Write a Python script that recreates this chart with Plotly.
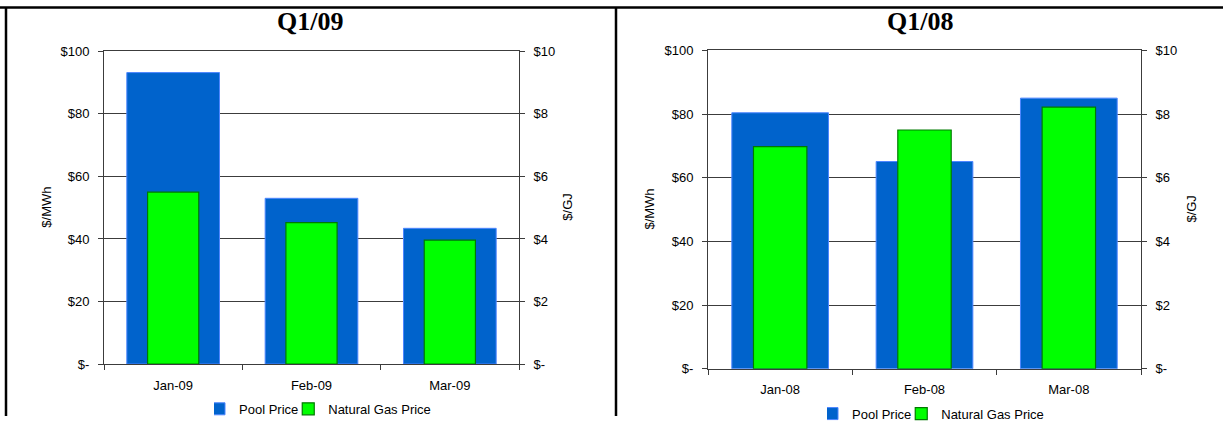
import plotly.graph_objects as go

# Monthly averages for the first quarter of 2009 and 2008
months_09 = ["Jan-09", "Feb-09", "Mar-09"]
pool_09 = [93.2, 53.0, 43.4]      # $/MWh
gas_09 = [5.5, 4.52, 3.96]        # $/GJ

months_08 = ["Jan-08", "Feb-08", "Mar-08"]
pool_08 = [80.4, 65.1, 85.0]      # $/MWh
gas_08 = [6.98, 7.5, 8.22]        # $/GJ

titles = ["Q1/09", "Q1/08"]

mwh_ticks = [0, 20, 40, 60, 80, 100]
mwh_labels = ["$-", "$20", "$40", "$60", "$80", "$100"]
gj_ticks = [0, 2, 4, 6, 8, 10]
gj_labels = ["$-", "$2", "$4", "$6", "$8", "$10"]

W, H = 1223, 429
SANS = "Liberation Sans, Arial, sans-serif"
SERIF = "Liberation Serif, Times New Roman, serif"
POOL_BLUE = "#0063CC"
POOL_EDGE = "#4D86FF"
GAS_GREEN = "#00FF00"
GAS_EDGE = "#007A00"
GRID = "#3C3C3C"


def px_x(x):
    return x / W


def px_y(y):
    return 1 - y / H


fig = go.Figure()

# pixel layout of the two panels (plot area, titles, legends)
panels = [
    dict(months=months_09, pool=pool_09, gas=gas_09, title=titles[0],
         left=104, right=519, top=46.5, bottom=374.5,
         title_x=310, mwh_x=47, gj_x=568, legend_x=325, legend_y=421.5,
         xa="x", ya="y", ya2="y2", legend="legend"),
    dict(months=months_08, pool=pool_08, gas=gas_08, title=titles[1],
         left=708, right=1141, top=45.5, bottom=379.5,
         title_x=920, mwh_x=650, gj_x=1192, legend_x=938, legend_y=426.5,
         xa="x2", ya="y3", ya2="y4", legend="legend2"),
]

annotations = []
layout = {}
for p in panels:
    fig.add_trace(go.Bar(
        x=p["months"], y=p["pool"], name="Pool Price",
        xaxis=p["xa"], yaxis=p["ya"], width=0.67,
        marker=dict(color=POOL_BLUE, line=dict(color=POOL_EDGE, width=1)),
        legend=p["legend"],
    ))
    fig.add_trace(go.Bar(
        x=p["months"], y=p["gas"], name="Natural Gas Price",
        xaxis=p["xa"], yaxis=p["ya2"], width=0.37,
        marker=dict(color=GAS_GREEN, line=dict(color=GAS_EDGE, width=1.2)),
        legend=p["legend"],
    ))

    xkey = "xaxis" if p["xa"] == "x" else "xaxis2"
    ykey = "yaxis" if p["ya"] == "y" else "yaxis3"
    y2key = "yaxis2" if p["ya2"] == "y2" else "yaxis4"

    layout[xkey] = dict(
        domain=[px_x(p["left"]), px_x(p["right"])], anchor=p["ya"],
        type="category",
        showline=True, linecolor=GRID, linewidth=1, mirror=True,
        ticks="outside", ticklen=5, tickcolor=GRID, tickson="boundaries",
        showgrid=False, tickfont=dict(family=SANS, size=13, color="black"),
        ticklabelstandoff=9, fixedrange=True,
    )
    layout[ykey] = dict(
        domain=[px_y(p["bottom"]), px_y(p["top"])], anchor=p["xa"],
        range=[0, 100], tickvals=mwh_ticks, ticktext=mwh_labels,
        showline=True, linecolor=GRID, linewidth=1,
        ticks="outside", ticklen=5, tickcolor=GRID,
        showgrid=True, gridcolor=GRID, gridwidth=1, zeroline=False,
        tickfont=dict(family=SANS, size=13, color="black"),
        ticklabelstandoff=6, fixedrange=True,
    )
    layout[y2key] = dict(
        overlaying=p["ya"], anchor=p["xa"], side="right", range=[0, 10],
        tickvals=gj_ticks, ticktext=gj_labels,
        showline=True, linecolor=GRID, linewidth=1,
        ticks="outside", ticklen=5, tickcolor=GRID,
        showgrid=False, zeroline=False,
        tickfont=dict(family=SANS, size=13, color="black"),
        ticklabelstandoff=6, fixedrange=True,
    )
    layout[p["legend"]] = dict(
        orientation="h", x=px_x(p["legend_x"]), xanchor="center",
        y=px_y(p["legend_y"]), yanchor="middle",
        font=dict(family=SANS, size=13, color="black"),
        bgcolor="rgba(0,0,0,0)", itemwidth=30, indentation=-15,
    )

    mid_y = px_y((p["top"] + p["bottom"]) / 2)
    annotations += [
        dict(text="<b>" + p["title"] + "</b>", x=px_x(p["title_x"]), y=px_y(15),
             xref="paper", yref="paper", showarrow=False,
             xanchor="center", yanchor="middle",
             font=dict(family=SERIF, size=26, color="black")),
        dict(text="$/MWh", x=px_x(p["mwh_x"]), y=mid_y, textangle=-90,
             xref="paper", yref="paper", showarrow=False,
             xanchor="center", yanchor="middle",
             font=dict(family=SANS, size=13, color="black")),
        dict(text="$/GJ", x=px_x(p["gj_x"]), y=mid_y, textangle=-90,
             xref="paper", yref="paper", showarrow=False,
             xanchor="center", yanchor="middle",
             font=dict(family=SANS, size=13, color="black")),
    ]

# panel frames
frame = dict(type="line", xref="paper", yref="paper",
             line=dict(color="black", width=2.5), layer="above")
shapes = [
    dict(frame, x0=0, x1=1, y0=px_y(0.5), y1=px_y(0.5)),
    dict(frame, x0=px_x(6), x1=px_x(6), y0=0, y1=px_y(0.5)),
    dict(frame, x0=px_x(616), x1=px_x(616), y0=0, y1=px_y(0.5)),
]

fig.update_layout(
    width=W, height=H, autosize=False,
    margin=dict(l=0, r=0, t=0, b=0),
    paper_bgcolor="white", plot_bgcolor="white",
    barmode="overlay", showlegend=True,
    annotations=annotations, shapes=shapes,
    **layout,
)

fig.write_html("out.html", config=dict(displayModeBar=False))
